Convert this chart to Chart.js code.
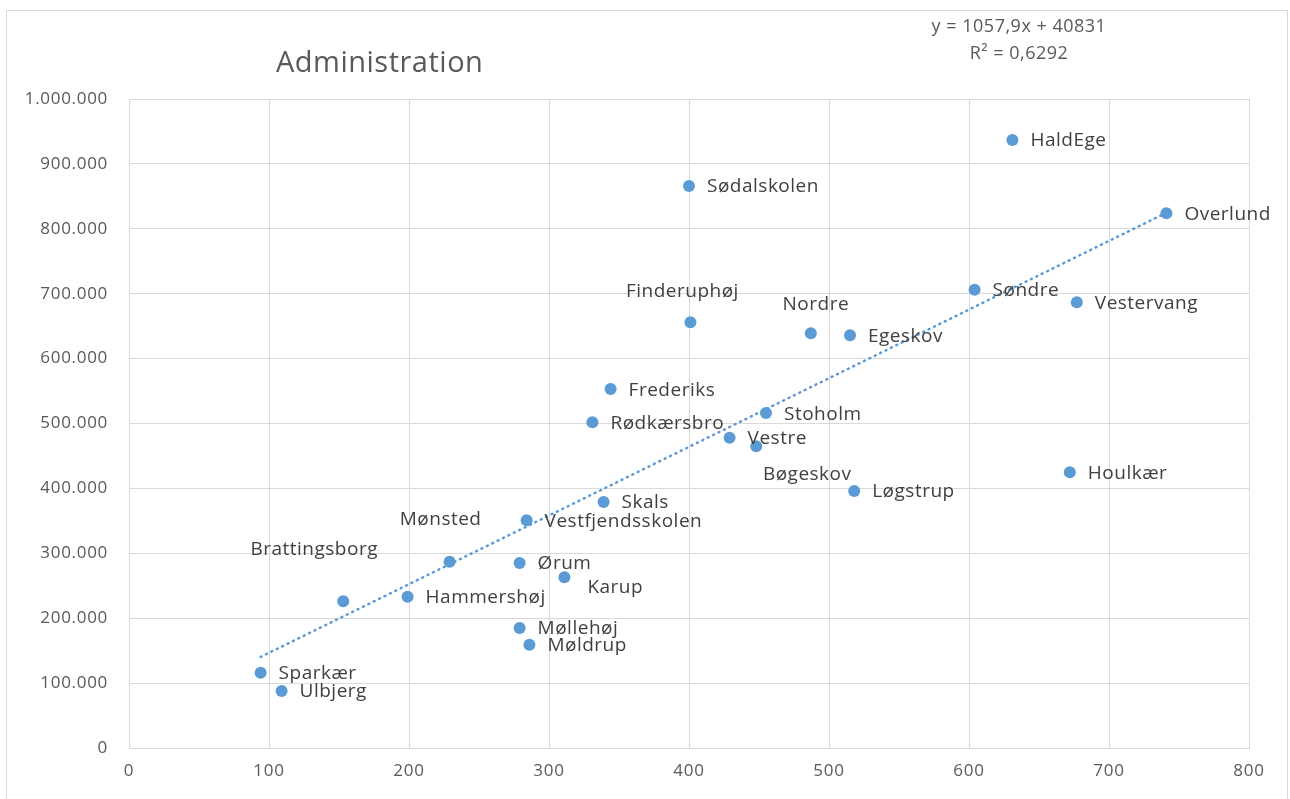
<!DOCTYPE html>
<html lang="da">
<head>
<meta charset="utf-8">
<title>Administration</title>
<script src="https://cdn.jsdelivr.net/npm/chart.js@4.4.1/dist/chart.umd.min.js"></script>
<style>
  html, body { margin: 0; padding: 0; background: #fff; overflow: hidden; }
  #frame { position: absolute; left: 6px; top: 10px; width: 1282px; height: 800px; border: 1px solid #d9d9d9; box-sizing: border-box; }
  #chart { position: absolute; left: 0; top: 0; }
</style>
</head>
<body>
<div id="frame"></div>
<canvas id="chart" width="1290" height="799"></canvas>
<script>
// --- data ---
const schools = [
  'Sødalskolen', 'HaldEge', 'Overlund', 'Søndre', 'Vestervang', 'Finderuphøj',
  'Nordre', 'Egeskov', 'Frederiks', 'Rødkærsbro', 'Stoholm', 'Vestre',
  'Bøgeskov', 'Løgstrup', 'Houlkær', 'Skals', 'Vestfjendsskolen', 'Mønsted',
  'Brattingsborg', 'Hammershøj', 'Ørum', 'Karup', 'Møllehøj', 'Møldrup',
  'Sparkær', 'Ulbjerg'
];
const xValues = [
  400, 631, 741, 604, 677, 401,
  487, 515, 344, 331, 455, 429,
  448, 518, 672, 339, 284, 229,
  153, 199, 279, 311, 279, 286,
  94, 109
];
const yValues = [
  866000, 937000, 824000, 706000, 687000, 656000,
  639000, 636000, 553000, 502000, 516000, 478000,
  465000, 396000, 425000, 379000, 351000, 287000,
  226000, 233000, 285000, 263000, 185000, 159000,
  116000, 88000
];
const trendSlope = 1057.9;
const trendIntercept = 40831;
const trendText = ['y = 1057,9x + 40831', 'R² = 0,6292'];
const chartTitle = 'Administration';

// labels Excel moved away from the default "right of point" spot
const labelPlace = {
  'Finderuphøj':   { dx: -8,  dy: -31, align: 'center' },
  'Nordre':        { dx: 5,   dy: -29, align: 'center' },
  'Bøgeskov':      { dx: 51,  dy: 28,  align: 'center' },
  'Brattingsborg': { dx: -29, dy: -52, align: 'center' },
  'Mønsted':       { dx: -9,  dy: -42, align: 'center' },
  'Karup':         { dx: 23,  dy: 10,  align: 'left' }
};

const FONT = '"Open Sans", "Noto Sans", sans-serif';
const BLUE = '#5B9BD5';

const points = xValues.map((x, i) => ({ x: x, y: yValues[i] }));
const minX = Math.min(...xValues);
const maxX = Math.max(...xValues);
const trend = [minX, maxX].map(x => ({ x: x, y: trendSlope * x + trendIntercept }));

function danish(n) {
  return String(n).replace(/\B(?=(\d{3})+(?!\d))/g, '.');
}

// --- point labels, title, equation ---
const pointLabels = {
  id: 'pointLabels',
  beforeDraw(chart) {
    chart.ctx.letterSpacing = '0.7px'; // wider spacing for the tick labels
  },
  afterDatasetsDraw(chart) {
    const ctx = chart.ctx;
    const meta = chart.getDatasetMeta(0);
    ctx.save();
    ctx.letterSpacing = '0.5px';
    ctx.font = '19px ' + FONT;
    ctx.fillStyle = '#404040';
    ctx.textBaseline = 'middle';
    meta.data.forEach((pt, i) => {
      const p = labelPlace[schools[i]] || { dx: 18, dy: 1, align: 'left' };
      ctx.textAlign = p.align;
      ctx.fillText(schools[i], pt.x + p.dx, pt.y + p.dy);
    });
    ctx.restore();
  },
  afterDraw(chart) {
    const ctx = chart.ctx;
    ctx.save();
    ctx.letterSpacing = '0.5px';
    ctx.fillStyle = '#595959';
    ctx.textBaseline = 'middle';
    ctx.font = '29px ' + FONT;
    ctx.textAlign = 'left';
    ctx.fillText(chartTitle, 276, 64);
    ctx.font = '18px ' + FONT;
    ctx.textAlign = 'center';
    ctx.fillText(trendText[0], 1019, 27);
    ctx.fillText(trendText[1], 1019, 54);
    ctx.restore();
    ctx.letterSpacing = '0px';
  }
};

new Chart(document.getElementById('chart'), {
  type: 'scatter',
  data: {
    datasets: [
      {
        label: 'Skoler',
        data: points,
        backgroundColor: BLUE,
        borderWidth: 0,
        pointRadius: 6
      },
      {
        type: 'line',
        label: 'Tendens',
        data: trend,
        borderColor: BLUE,
        borderWidth: 2.5,
        borderDash: [1, 5],
        borderCapStyle: 'round',
        pointRadius: 0,
        fill: false
      }
    ]
  },
  options: {
    responsive: false,
    animation: false,
    layout: { padding: { left: 0, top: 99, right: 41, bottom: 0 } },
    plugins: {
      legend: { display: false },
      tooltip: { enabled: false }
    },
    scales: {
      x: {
        type: 'linear',
        min: 0, max: 800,
        afterFit: s => { s.height = 51; },
        ticks: { stepSize: 100, color: '#595959', font: { family: FONT, size: 17 }, padding: 13 },
        grid: { color: '#d9d9d9', drawTicks: false },
        border: { color: '#d9d9d9' }
      },
      y: {
        min: 0, max: 1000000,
        afterFit: s => { s.width = 129; },
        ticks: { stepSize: 100000, color: '#595959', font: { family: FONT, size: 17 }, padding: 21, callback: v => danish(v) },
        grid: { color: '#d9d9d9', drawTicks: false },
        border: { color: '#d9d9d9' }
      }
    }
  },
  plugins: [pointLabels]
});
</script>
</body>
</html>
